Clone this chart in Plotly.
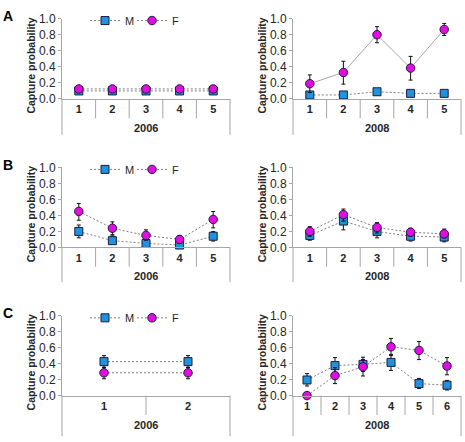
import plotly.graph_objects as go

W, H = 465, 442

# ---------------- data ----------------
cats5 = [1, 2, 3, 4, 5]
cats2 = [1, 2]
cats6 = [1, 2, 3, 4, 5, 6]
years = ["2006", "2008"]

# Panel A
A06_M = [0.10, 0.10, 0.10, 0.10, 0.10]
A06_F = [0.125, 0.125, 0.125, 0.125, 0.125]
A08_M = [0.05, 0.05, 0.09, 0.07, 0.07]
A08_M_hi = [0.02, 0.02, 0.03, 0.02, 0.02]
A08_M_lo = [0.02, 0.02, 0.04, 0.02, 0.02]
A08_F = [0.19, 0.33, 0.80, 0.385, 0.865]
A08_F_hi = [0.11, 0.14, 0.10, 0.145, 0.075]
A08_F_lo = [0.11, 0.145, 0.10, 0.15, 0.075]

# Panel B
B06_M = [0.20, 0.085, 0.05, 0.03, 0.14]
B06_M_hi = [0.08, 0.06, 0.04, 0.03, 0.06]
B06_M_lo = [0.08, 0.04, 0.03, 0.02, 0.06]
B06_F = [0.45, 0.24, 0.15, 0.10, 0.35]
B06_F_hi = [0.10, 0.08, 0.07, 0.05, 0.10]
B06_F_lo = [0.11, 0.08, 0.06, 0.05, 0.105]
B08_M = [0.15, 0.33, 0.20, 0.14, 0.13]
B08_M_hi = [0.06, 0.07, 0.06, 0.06, 0.05]
B08_M_lo = [0.06, 0.11, 0.08, 0.06, 0.06]
B08_F = [0.20, 0.41, 0.25, 0.19, 0.17]
B08_F_hi = [0.06, 0.07, 0.06, 0.05, 0.06]
B08_F_lo = [0.06, 0.08, 0.07, 0.05, 0.05]

# Panel C
C06_M = [0.425, 0.425]
C06_M_hi = [0.075, 0.075]
C06_M_lo = [0.075, 0.075]
C06_F = [0.285, 0.285]
C06_F_hi = [0.07, 0.07]
C06_F_lo = [0.075, 0.075]
C08_M = [0.195, 0.375, 0.39, 0.415, 0.15, 0.13]
C08_M_hi = [0.08, 0.10, 0.09, 0.10, 0.065, 0.06]
C08_M_lo = [0.075, 0.10, 0.09, 0.10, 0.06, 0.06]
C08_F = [0.0, 0.25, 0.36, 0.61, 0.565, 0.37]
C08_F_hi = [0.0, 0.10, 0.09, 0.105, 0.11, 0.105]
C08_F_lo = [0.0, 0.10, 0.115, 0.11, 0.115, 0.11]

# ---------------- styling ----------------
BLUE = "#1f93df"
MAGENTA = "#e30ce3"
EDGE = "#1c1c3c"
LINE_GRAY = "#7f7f7f"
AXIS_GRAY = "#a6a6a6"
TXT = "#262626"
FONT = "Liberation Sans, Arial, sans-serif"


def px_x(px):
    return px / W


def px_y(py):
    return 1 - py / H


rows = [(12.0, 95.0, 37), (165.7, 248.3, 36), (318.7, 401.3, 42)]
cols = [(62.0, 230.0), (293.0, 461.0)]
letters = ["A", "B", "C"]

panels = [
    # (row, col, cats, M, Mhi, Mlo, F, Fhi, Flo, year, Fstyle)
    (0, 0, cats5, A06_M, None, None, A06_F, None, None, years[0], "dot"),
    (0, 1, cats5, A08_M, A08_M_hi, A08_M_lo, A08_F, A08_F_hi, A08_F_lo, years[1], "solid"),
    (1, 0, cats5, B06_M, B06_M_hi, B06_M_lo, B06_F, B06_F_hi, B06_F_lo, years[0], "dot"),
    (1, 1, cats5, B08_M, B08_M_hi, B08_M_lo, B08_F, B08_F_hi, B08_F_lo, years[1], "dot"),
    (2, 0, cats2, C06_M, C06_M_hi, C06_M_lo, C06_F, C06_F_hi, C06_F_lo, years[0], "dot"),
    (2, 1, cats6, C08_M, C08_M_hi, C08_M_lo, C08_F, C08_F_hi, C08_F_lo, years[1], "dot"),
]

fig = go.Figure()
shapes = []
annotations = []
layout_axes = {}


def err(hi, lo):
    if hi is None:
        return dict(visible=False)
    return dict(type="data", symmetric=False, array=hi, arrayminus=lo,
                color="#111111", thickness=1, width=2)


for i, (r, c, cats, M, Mhi, Mlo, F, Fhi, Flo, year, fstyle) in enumerate(panels):
    idx = i + 1
    xa = "x" if idx == 1 else f"x{idx}"
    ya = "y" if idx == 1 else f"y{idx}"
    xkey = "xaxis" if idx == 1 else f"xaxis{idx}"
    ykey = "yaxis" if idx == 1 else f"yaxis{idx}"
    top, bot, outer_len = rows[r]
    left, right = cols[c]
    rowh = bot - top
    leg = "legend" if r == 0 else f"legend{r + 1}"
    show = (c == 0)

    fig.add_trace(go.Scatter(
        x=cats, y=M, name="M", mode="lines+markers", xaxis=xa, yaxis=ya,
        line=dict(color=LINE_GRAY, width=1, dash="2px,2px"),
        marker=dict(symbol="square", size=8, color=BLUE, line=dict(color=EDGE, width=1)),
        error_y=err(Mhi, Mlo), cliponaxis=False, showlegend=show, legend=leg,
    ))
    fig.add_trace(go.Scatter(
        x=cats, y=F, name="F", mode="lines+markers", xaxis=xa, yaxis=ya,
        line=dict(color="#a8a8a8" if fstyle == "solid" else LINE_GRAY, width=1,
                  dash="solid" if fstyle == "solid" else "2px,2px"),
        marker=dict(symbol="circle", size=8.5, color=MAGENTA, line=dict(color=EDGE, width=1)),
        error_y=err(Fhi, Flo), cliponaxis=False, showlegend=show, legend=leg,
    ))

    n = len(cats)
    layout_axes[xkey] = dict(
        domain=[px_x(left), px_x(right)], anchor=ya, range=[0.5, n + 0.5],
        tickmode="array", tickvals=cats, ticktext=[str(v) for v in cats],
        showgrid=False, zeroline=False, showline=True, linecolor=AXIS_GRAY, linewidth=1,
        ticks="", tickfont=dict(family=FONT, size=11, color=TXT, weight="bold"),
        fixedrange=True,
    )
    layout_axes[ykey] = dict(
        domain=[px_y(bot), px_y(top)], anchor=xa, range=[0, 1], dtick=0.2,
        tickformat=".1f", showgrid=False, zeroline=False, showline=True,
        linecolor=AXIS_GRAY, linewidth=1, ticks="outside", ticklen=3,
        tickcolor=AXIS_GRAY, tickfont=dict(family=FONT, size=12, color=TXT),
        fixedrange=True,
    )

    # category separators (multi-level category axis look)
    xd = xa + " domain"
    yd = ya + " domain"
    for k in range(1, n):
        shapes.append(dict(type="line", xref=xd, yref=yd, x0=k / n, x1=k / n,
                           y0=0, y1=-20 / rowh, line=dict(color=AXIS_GRAY, width=1)))
    for k in (0, 1):
        shapes.append(dict(type="line", xref=xd, yref=yd, x0=k, x1=k,
                           y0=0, y1=-outer_len / rowh, line=dict(color=AXIS_GRAY, width=1)))

    # year label
    annotations.append(dict(
        text=f"<b>{year}</b>", xref="paper", yref="paper",
        x=px_x((left + right) / 2), y=px_y(bot + 30), xanchor="center", yanchor="middle",
        showarrow=False, font=dict(family=FONT, size=11, color=TXT)))
    # y title
    annotations.append(dict(
        text="<b>Capture probability</b>", xref="paper", yref="paper",
        x=px_x(left - 31), y=px_y((top + bot) / 2 + 7), textangle=-90,
        xanchor="center", yanchor="middle", showarrow=False,
        font=dict(family=FONT, size=10.5, color=TXT)))

# panel letters
for r, L in enumerate(letters):
    top = rows[r][0]
    annotations.append(dict(
        text=f"<b>{L}</b>", xref="paper", yref="paper", x=px_x(8), y=px_y(top - 3),
        xanchor="center", yanchor="middle", showarrow=False,
        font=dict(family=FONT, size=14, color="#000000")))

legend_style = dict(orientation="h", xanchor="left", yanchor="middle",
                    bgcolor="rgba(0,0,0,0)", font=dict(family=FONT, size=11, color=TXT),
                    itemwidth=30, tracegroupgap=0, entrywidth=2, entrywidthmode="pixels")
legend_y = [14, 167.7, 321]
legend_x = 85

fig.update_layout(
    width=W, height=H, margin=dict(l=0, r=0, t=0, b=0),
    paper_bgcolor="white", plot_bgcolor="white",
    shapes=shapes, annotations=annotations,
    legend=dict(legend_style, x=px_x(legend_x), y=px_y(legend_y[0])),
    legend2=dict(legend_style, x=px_x(legend_x), y=px_y(legend_y[1])),
    legend3=dict(legend_style, x=px_x(legend_x), y=px_y(legend_y[2])),
    **layout_axes,
)

fig.write_html(
    "out.html",
    config={"displayModeBar": False},
    post_script="document.body.style.margin='0';document.body.style.padding='0';"
                "document.body.style.overflow='hidden';",
)
